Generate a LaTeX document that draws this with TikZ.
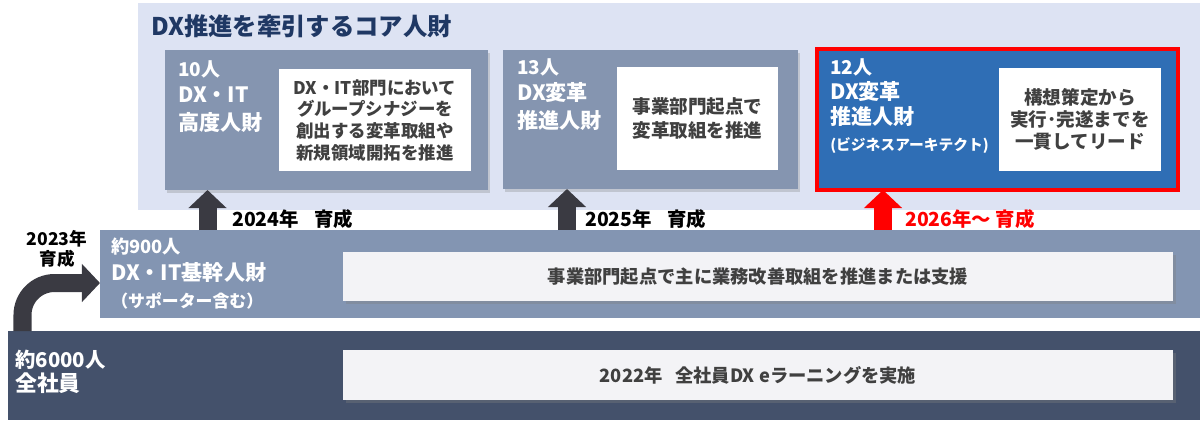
\documentclass[tikz,border=0pt]{standalone}
\usepackage{fontspec}
\setmainfont{Noto Sans CJK JP}
\usetikzlibrary{arrows.meta,shadows}
\definecolor{panelblue}{RGB}{221,227,243}
\definecolor{titlenavy}{RGB}{31,56,100}
\definecolor{tiergray}{RGB}{133,149,176}
\definecolor{archblue}{RGB}{47,110,181}
\definecolor{alertred}{RGB}{255,0,0}
\definecolor{baseslate}{RGB}{131,149,178}
\definecolor{allslate}{RGB}{68,81,107}
\definecolor{arrowgray}{RGB}{58,58,66}
\definecolor{bartext}{RGB}{64,64,64}
\definecolor{barwhite}{RGB}{243,243,246}
\newlength\upx
\setlength\upx{0.025cm}

\tikzset{
  block/.style={inner sep=0, outer sep=0, anchor=north west},
  talent/.style={block, fill=tiergray, drop shadow={shadow xshift=2\upx, shadow yshift=-3\upx, opacity=0.3}},
  memo/.style={block, fill=white},
  bar/.style={block, fill=barwhite, drop shadow={shadow xshift=3\upx, shadow yshift=-3\upx, opacity=0.35}},
  head/.style={inner sep=0, anchor=north west, align=left, text=white, font=\bfseries\fontsize{15}{19}\selectfont},
  memotext/.style={inner sep=0, align=center, text=bartext, font=\bfseries\fontsize{12.4}{15.4}\selectfont},
  bartextnode/.style={inner sep=0, text=bartext, font=\bfseries\fontsize{13}{16}\selectfont},
  growarrow/.style={draw=arrowgray, line width=0.45cm, -{Triangle[width=0.925cm,length=0.45cm]}},
  yearlabel/.style={anchor=west, inner sep=0, font=\bfseries\fontsize{13.8}{16}\selectfont}
}

\begin{document}
\begin{tikzpicture}[x=0.025cm, y=-0.025cm]
    \useasboundingbox (0,0) rectangle (1200,420);

    % Core talent panel
    \node[block, fill=panelblue, minimum width=1062\upx, minimum height=207\upx] (core) at (138,3) {};
    \node[anchor=west, inner sep=0, text=titlenavy, font=\bfseries\fontsize{17.3}{20}\selectfont] (title) at (151,26) {DX推進を牽引するコア人財};

    % Three core talent boxes
    \node[talent, minimum width=323\upx, minimum height=140\upx] (adv) at (165,50) {};
    \node[memo, minimum width=192\upx, minimum height=102\upx] (advmemo) at (279,69) {};
    \node[head] (advhead) at (178,60) {{\fontsize{13.5}{19}\selectfont 10人}\\DX・IT\\[1pt]高度人財};
    \node[memotext] (advtext) at (advmemo.center) {DX・IT部門において\\グループシナジーを\\創出する変革取組や\\新規領域開拓を推進};

    \node[talent, minimum width=295\upx, minimum height=139\upx] (trans) at (503,50) {};
    \node[memo, minimum width=161\upx, minimum height=103\upx] (transmemo) at (617,67) {};
    \node[head] (transhead) at (517,58) {{\fontsize{13.5}{19}\selectfont 13人}\\DX変革\\[1pt]推進人財};
    \node[memotext, font=\bfseries\fontsize{13.2}{17}\selectfont] (transtext) at (transmemo.center) {事業部門起点で\\変革取組を推進};

    \node[block, draw=alertred, line width=4\upx, fill=archblue, minimum width=361\upx, minimum height=141\upx] (arch) at (817,49) {};
    \node[memo, minimum width=162\upx, minimum height=103\upx] (archmemo) at (999,68) {};
    \node[head, font=\bfseries\fontsize{15}{18}\selectfont] (archhead) at (830,58) {{\fontsize{13.5}{18}\selectfont 12人}\\DX変革\\推進人財\\{\fontsize{10.5}{18}\selectfont (ビジネスアーキテクト)}};
    \node[memotext, font=\bfseries\fontsize{13.2}{15.6}\selectfont] (archtext) at (archmemo.center) {構想策定から\\実行･完遂までを\\一貫してリード};

    % Base talent band
    \node[block, fill=baseslate, minimum width=1100\upx, minimum height=88\upx] (base) at (100,230) {};
    \node[bar, minimum width=830\upx, minimum height=49\upx] (basebar) at (343,252) {};
    \node[head] (basehead) at (111,238) {{\fontsize{13}{18}\selectfont 約900人}\\DX・IT基幹人財\\{\fontsize{12}{18}\selectfont （サポーター含む）}};
    \node[bartextnode] (basetext) at (basebar.center) {事業部門起点で主に業務改善取組を推進または支援};

    % All employees band
    \node[block, fill=allslate, minimum width=1192\upx, minimum height=89\upx] (all) at (8,331) {};
    \node[bar, minimum width=830\upx, minimum height=50\upx] (allbar) at (343,350) {};
    \node[head, font=\bfseries\fontsize{15.5}{17}\selectfont] (allhead) at (15,350) {{\fontsize{14.5}{17}\selectfont 約6000人}\\全社員};
    \node[bartextnode] (alltext) at (allbar.center) {2022年\hspace{0.7em}全社員DX eラーニングを実施};

    % Growth arrows
    \coordinate (c23) at (22.5,331);
    \coordinate (t23) at (100,283);
    \coordinate (c24) at (207.5,230);
    \coordinate (c25) at (567,230);
    \coordinate (c26) at (883,230);
    \draw[growarrow, rounded corners=0.8cm] (c23) |- (t23);
    \draw[growarrow] (c24) -- (c24 |- adv.south);
    \draw[growarrow] (c25) -- (c25 |- trans.south);
    \draw[growarrow, draw=alertred] (c26) -- (c26 |- arch.south);

    % Year labels
    \node[inner sep=0, align=center, font=\bfseries\fontsize{12.5}{14}\selectfont] (y23) at (57,249) {2023年\\育成};
    \node[yearlabel] (y24) at (232,219) {2024年\hspace{0.8em}育成};
    \node[yearlabel] (y25) at (585,219) {2025年\hspace{0.8em}育成};
    \node[yearlabel, text=alertred] (y26) at (905,219) {2026年～ 育成};
\end{tikzpicture}
\end{document}
